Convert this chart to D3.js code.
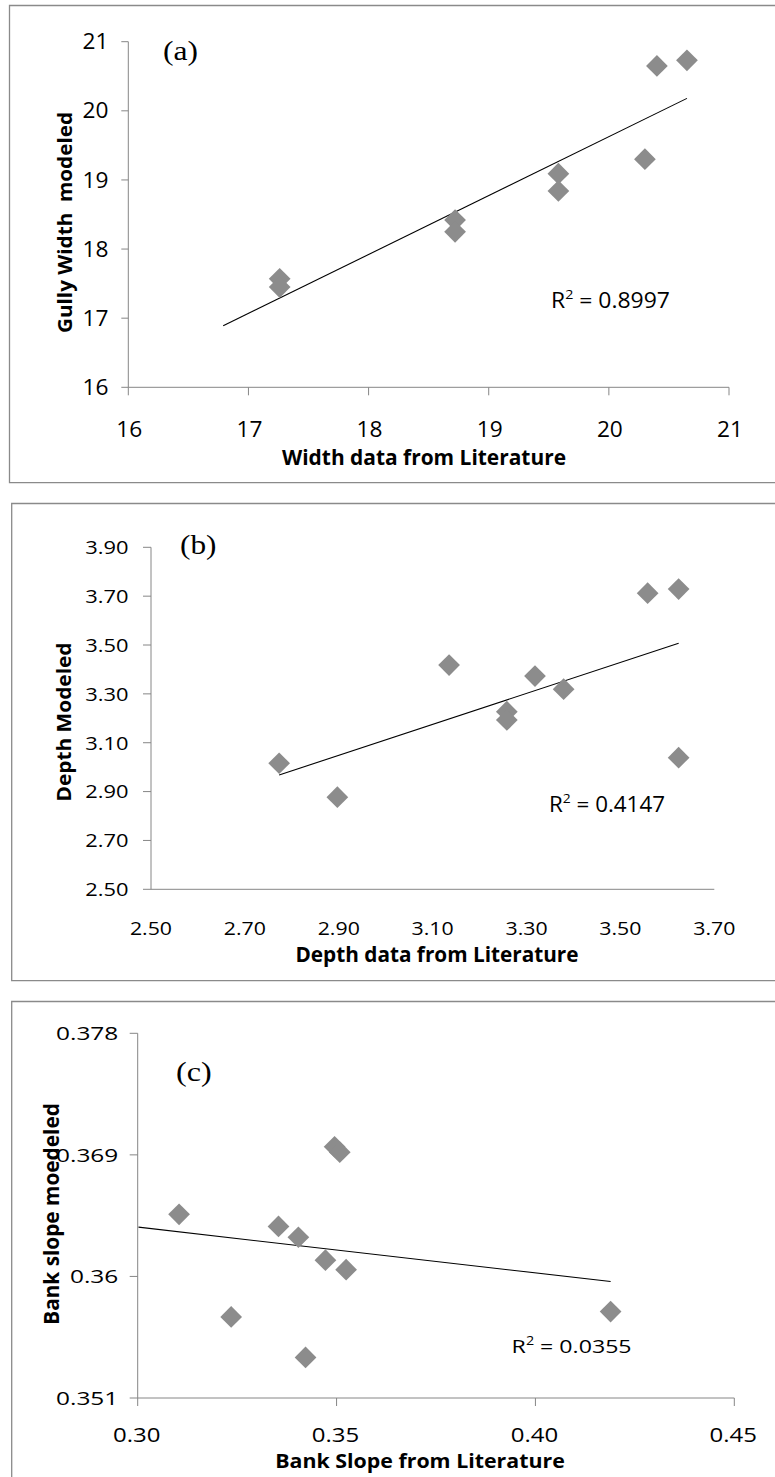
<!DOCTYPE html>
<html><head><meta charset="utf-8">
<script src="https://cdn.jsdelivr.net/npm/d3@7/dist/d3.min.js"></script>
<style>html,body{margin:0;padding:0;background:#fff}svg{display:block}</style>
</head><body>
<script>
// ---------- DATA ----------
const widthLit    = [17.26, 17.26, 18.72, 18.72, 19.58, 19.58, 20.30, 20.40, 20.65];
const widthModel  = [17.57, 17.45, 18.42, 18.25, 19.09, 18.84, 19.30, 20.65, 20.73];
const widthTrendX = [16.79, 20.65];
const widthTrendY = [16.89, 20.18];
const widthTicks  = [16, 17, 18, 19, 20, 21];
const widthR2     = "0.8997";

const depthLit    = [2.773, 2.897, 3.135, 3.258, 3.258, 3.318, 3.379, 3.558, 3.624, 3.624];
const depthModel  = [3.016, 2.877, 3.418, 3.227, 3.193, 3.373, 3.319, 3.712, 3.729, 3.039];
const depthTrendX = [2.773, 3.624];
const depthTrendY = [2.968, 3.507];
const depthXTicks = [2.50, 2.70, 2.90, 3.10, 3.30, 3.50, 3.70];
const depthYTicks = [2.50, 2.70, 2.90, 3.10, 3.30, 3.50, 3.70, 3.90];
const depthR2     = "0.4147";

const slopeLit    = [0.3495, 0.3508, 0.3104, 0.3354, 0.3404, 0.3472, 0.3524, 0.3235, 0.3422, 0.4189];
const slopeModel  = [0.3696, 0.3692, 0.3646, 0.3637, 0.3629, 0.3612, 0.3605, 0.3570, 0.3540, 0.3574];
const slopeTrendX = [0.3002, 0.4189];
const slopeTrendY = [0.36365, 0.35962];
const slopeXTicks = [0.30, 0.35, 0.40, 0.45];
const slopeXLabels = ["0.30", "0.35", "0.40", "0.45"];
const slopeYTicks = [0.351, 0.36, 0.369, 0.378];
const slopeYLabels = ["0.351", "0.36", "0.369", "0.378"];
const slopeR2     = "0.0355";

// ---------- DRAW ----------
const W = 775, H = 1477;
const svg = d3.select("body").append("svg").attr("width", W).attr("height", H);
const SANS = "'Open Sans', 'Noto Sans', sans-serif";
const SERIF = "'Liberation Serif', 'DejaVu Serif', serif";
const GRAY_AX = "#868686";
const PT = "#8c8c8c";

function fitWidth(sel, target) {
  sel.each(function () {
    const w = this.getComputedTextLength();
    const t = typeof target === "function" ? target(w) : target;
    d3.select(this).attr("textLength", t).attr("lengthAdjust", "spacingAndGlyphs");
  });
}

function panel(cfg) {
  const g = svg.append("g");
  // frame
  g.append("path")
    .attr("d", `M${W + 20},${cfg.frame[1]} H${cfg.frame[0]} V${cfg.frame[2]} H${W + 20}`)
    .attr("fill", "none").attr("stroke", "#8a8a8a").attr("stroke-width", 1.3);

  const x = d3.scaleLinear().domain(cfg.xDomain).range(cfg.xRange);
  const y = d3.scaleLinear().domain(cfg.yDomain).range(cfg.yRange);

  // axes lines
  g.append("line").attr("x1", x(cfg.xDomain[0])).attr("x2", x(cfg.xDomain[0]))
    .attr("y1", y(cfg.yDomain[0])).attr("y2", y(cfg.yDomain[1]))
    .attr("stroke", GRAY_AX).attr("stroke-width", 1);
  g.append("line").attr("x1", x(cfg.xDomain[0])).attr("x2", x(cfg.xDomain[1]))
    .attr("y1", y(cfg.yDomain[0])).attr("y2", y(cfg.yDomain[0]))
    .attr("stroke", GRAY_AX).attr("stroke-width", 1);

  // y ticks
  g.selectAll(".yt").data(cfg.yTicks).join("line")
    .attr("x1", x(cfg.xDomain[0]) - cfg.yTickLen).attr("x2", x(cfg.xDomain[0]))
    .attr("y1", d => y(d)).attr("y2", d => y(d))
    .attr("stroke", GRAY_AX).attr("stroke-width", 1);
  // x ticks
  g.selectAll(".xt").data(cfg.xTicks).join("line")
    .attr("x1", d => x(d)).attr("x2", d => x(d))
    .attr("y1", y(cfg.yDomain[0])).attr("y2", y(cfg.yDomain[0]) + cfg.xTickLen)
    .attr("stroke", GRAY_AX).attr("stroke-width", 1);

  // y tick labels
  const yl = g.selectAll(".yl").data(cfg.yTicks).join("text")
    .attr("x", cfg.yLabelRight).attr("y", d => y(d)).attr("dy", "0.36em")
    .attr("text-anchor", "end").attr("font-family", SANS)
    .attr("font-size", cfg.yLabelSize).attr("fill", "#000")
    .text((d, i) => cfg.yLabels[i]);
  fitWidth(yl, w => w * cfg.yLabelSx);

  // x tick labels
  const xl = g.selectAll(".xl").data(cfg.xTicks).join("text")
    .attr("x", d => x(d) + cfg.xLabelDx).attr("y", cfg.xLabelBase)
    .attr("text-anchor", "middle").attr("font-family", SANS)
    .attr("font-size", cfg.xLabelSize).attr("fill", "#000")
    .text((d, i) => cfg.xLabels[i]);
  fitWidth(xl, w => w * cfg.xLabelSx);

  // trend line
  g.append("line")
    .attr("x1", x(cfg.trendX[0])).attr("y1", y(cfg.trendY[0]))
    .attr("x2", x(cfg.trendX[1])).attr("y2", y(cfg.trendY[1]))
    .attr("stroke", "#000").attr("stroke-width", 1.1);

  // points (diamonds)
  const sym = d3.symbol().type(d3.symbolSquare).size(236);
  g.selectAll(".pt").data(cfg.xs.map((v, i) => [v, cfg.ys[i]])).join("path")
    .attr("d", sym)
    .attr("transform", d => `translate(${x(d[0])},${y(d[1])}) rotate(45)`)
    .attr("fill", PT);

  // x title
  const xt = g.append("text").attr("x", cfg.xTitle.cx).attr("y", cfg.xTitle.base)
    .attr("text-anchor", "middle").attr("font-family", SANS).attr("font-weight", 700)
    .attr("font-size", cfg.xTitle.size).attr("fill", "#000").text(cfg.xTitle.text);
  fitWidth(xt, cfg.xTitle.width);

  // y title (rotated)
  const yt = g.append("text")
    .attr("transform", `translate(${cfg.yTitle.base},${cfg.yTitle.cy}) rotate(-90)`)
    .attr("text-anchor", "middle").attr("font-family", SANS).attr("font-weight", 700)
    .style("white-space", "pre")
    .attr("font-size", cfg.yTitle.size).attr("fill", "#000").text(cfg.yTitle.text);
  fitWidth(yt, cfg.yTitle.width);

  // panel letter
  const pl = g.append("text").attr("x", cfg.letter.x).attr("y", cfg.letter.base)
    .attr("font-family", SERIF).attr("font-size", 28).attr("fill", "#000").text(cfg.letter.text);
  fitWidth(pl, cfg.letter.width);

  // R^2
  const r = g.append("text").attr("x", cfg.r2.x).attr("y", cfg.r2.base)
    .attr("font-family", SANS).attr("font-size", cfg.r2.size).attr("fill", "#000");
  r.append("tspan").text("R");
  r.append("tspan").attr("dy", -cfg.r2.size * 0.42).attr("font-size", cfg.r2.size * 0.62).text("2");
  r.append("tspan").attr("dy", cfg.r2.size * 0.42).text(" = " + cfg.r2.value);
  fitWidth(r, cfg.r2.width);
}

panel({
  frame: [9.5, 5.5, 482.7],
  xDomain: [16, 21], xRange: [128.3, 729],
  yDomain: [16, 21], yRange: [387.3, 41.7],
  xTicks: widthTicks, xLabels: widthTicks.map(String),
  yTicks: widthTicks, yLabels: widthTicks.map(String),
  yTickLen: 7, xTickLen: 8,
  yLabelRight: 108.5, yLabelSize: 21, yLabelSx: 1.08,
  xLabelBase: 436.7, xLabelSize: 21, xLabelSx: 1.08, xLabelDx: 1,
  xs: widthLit, ys: widthModel, trendX: widthTrendX, trendY: widthTrendY,
  xTitle: { text: "Width data from Literature", cx: 424, base: 465, size: 21, width: 284 },
  yTitle: { text: "Gully Width  modeled", cy: 222.5, base: 71.5, size: 20, width: 221 },
  letter: { text: "(a)", x: 163, base: 60, width: 35 },
  r2: { value: widthR2, x: 551, base: 308, size: 21, width: 119 }
});

panel({
  frame: [11.7, 503.5, 980.7],
  xDomain: [2.5, 3.7], xRange: [151, 714.3],
  yDomain: [2.5, 3.9], yRange: [889.3, 547.3],
  xTicks: depthXTicks, xLabels: depthXTicks.map(d => d.toFixed(2)),
  yTicks: depthYTicks, yLabels: depthYTicks.map(d => d.toFixed(2)),
  yTickLen: 8, xTickLen: 0,
  yLabelRight: 128.5, yLabelSize: 19, yLabelSx: 1.15,
  xLabelBase: 935, xLabelSize: 19, xLabelSx: 1.12, xLabelDx: 0,
  xs: depthLit, ys: depthModel, trendX: depthTrendX, trendY: depthTrendY,
  xTitle: { text: "Depth data from Literature", cx: 437, base: 961.7, size: 21, width: 283 },
  yTitle: { text: "Depth Modeled", cy: 722, base: 70.7, size: 20, width: 159 },
  letter: { text: "(b)", x: 180, base: 554, width: 36.5 },
  r2: { value: depthR2, x: 549, base: 811.7, size: 21, width: 116 }
});

panel({
  frame: [11.7, 1001.5, H + 20],
  xDomain: [0.30, 0.45], xRange: [137.7, 734.3],
  yDomain: [0.351, 0.378], yRange: [1398, 1033.3],
  xTicks: slopeXTicks, xLabels: slopeXLabels,
  yTicks: slopeYTicks, yLabels: slopeYLabels,
  yTickLen: 8, xTickLen: 8,
  yLabelRight: 118.3, yLabelSize: 18.5, yLabelSx: 1.32,
  xLabelBase: 1441.5, xLabelSize: 20.5, xLabelSx: 1.17, xLabelDx: -1,
  xs: slopeLit, ys: slopeModel, trendX: slopeTrendX, trendY: slopeTrendY,
  xTitle: { text: "Bank Slope from Literature", cx: 420, base: 1468, size: 19, width: 289.7 },
  yTitle: { text: "Bank slope moedeled", cy: 1214, base: 59.3, size: 21, width: 221.7 },
  letter: { text: "(c)", x: 176, base: 1081, width: 35.7 },
  r2: { value: slopeR2, x: 511.6, base: 1352.7, size: 19, width: 120 }
});
</script>
</body></html>
